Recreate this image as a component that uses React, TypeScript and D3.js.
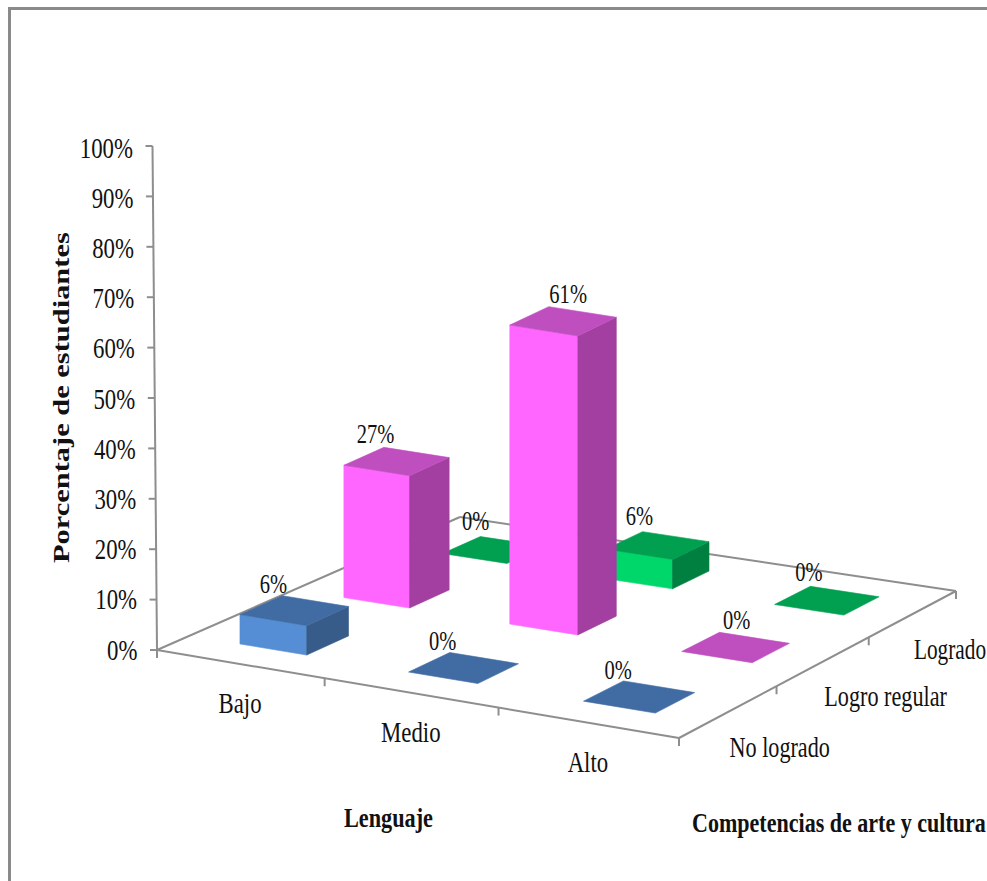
import * as d3 from "d3";
import React, { useEffect, useRef } from "react";

const lenguaje = ["Bajo", "Medio", "Alto"];
const competencias = ["No logrado", "Logro regular", "Logrado"];
const noLogrado = [6, 0, 0];
const logroRegular = [27, 61, 0];
const logrado = [0, 6, 0];
const seriesValues = [noLogrado, logroRegular, logrado];
const yTicks = [0, 10, 20, 30, 40, 50, 60, 70, 80, 90, 100];

const WIDTH = 987;
const HEIGHT = 881;
const SERIF = "'Liberation Serif', 'Times New Roman', serif";
const AXIS_COLOR = "#8e8e8e";

// front, top, side
const colors = [
  ["#558ed5", "#416ca3", "#375c8a"],
  ["#ff66ff", "#bf4fbf", "#a33fa0"],
  ["#00d76b", "#00a050", "#008040"],
];

// floor corners of the box, the picture is in perspective so map the unit square with a homography
const floorA: [number, number] = [157, 650];
const floorB: [number, number] = [679, 738];
const floorC: [number, number] = [956, 591];
const floorD: [number, number] = [460, 517];

const makeFloor = () => {
  const dx1 = floorB[0] - floorC[0];
  const dx2 = floorD[0] - floorC[0];
  const sx = floorA[0] - floorB[0] + floorC[0] - floorD[0];
  const dy1 = floorB[1] - floorC[1];
  const dy2 = floorD[1] - floorC[1];
  const sy = floorA[1] - floorB[1] + floorC[1] - floorD[1];
  const det = dx1 * dy2 - dx2 * dy1;
  const g = (sx * dy2 - dx2 * sy) / det;
  const h = (dx1 * sy - sx * dy1) / det;
  const a = floorB[0] - floorA[0] + g * floorB[0];
  const b = floorD[0] - floorA[0] + h * floorD[0];
  const d = floorB[1] - floorA[1] + g * floorB[1];
  const e = floorD[1] - floorA[1] + h * floorD[1];
  return (u: number, v: number): [number, number] => {
    const w = g * u + h * v + 1;
    return [(a * u + b * v + floorA[0]) / w, (d * u + e * v + floorA[1]) / w];
  };
};

const App: React.FC = () => {
  const svgRef = useRef<SVGSVGElement>(null);

  useEffect(() => {
    const svg = d3.select(svgRef.current);
    svg.selectAll("*").remove();

    const floor = makeFloor();
    const uScale = d3.scaleBand<string>().domain(lenguaje).range([0, 1]).paddingInner(0.6).paddingOuter(0.3);
    const vScale = d3.scaleBand<string>().domain(competencias).range([0, 1]).paddingInner(0.6).paddingOuter(0.3);
    const yScale = d3.scaleLinear().domain([0, 100]).range([650, 146]);
    const yAxisX = d3.scaleLinear().domain([0, 100]).range([157, 152.5]);
    const yLabelY = d3.scaleLinear().domain([0, 100]).range([659.5, 157.5]);
    const barHeight = d3.scaleLinear().domain([0, 100]).range([0, 490]);
    const poly = d3.line();

    const addText = (
      txt: string,
      x: number,
      y: number,
      size: number,
      anchor: string = "middle",
      sx: number = 0.76,
    ) => {
      const t = svg
        .append("text")
        .attr("transform", `translate(${x},${y}) scale(${sx},1)`)
        .attr("font-family", SERIF)
        .attr("font-size", size)
        .attr("fill", "#111")
        .attr("text-anchor", anchor)
        .text(txt);
      // keep the text inside the page on the right
      if (anchor === "start") {
        const natural = (t.node() as SVGTextElement).getComputedTextLength();
        const fit = Math.min(sx, (WIDTH - 1 - x) / natural);
        t.attr("transform", `translate(${x},${y}) scale(${fit},1)`);
      }
    };

    // frame
    svg
      .append("path")
      .attr("d", `M9.5,${HEIGHT} V8.5 H${WIDTH}`)
      .attr("fill", "none")
      .attr("stroke", "#8a8a8a")
      .attr("stroke-width", 3);

    // y axis
    svg
      .append("line")
      .attr("x1", yAxisX(0))
      .attr("y1", yScale(0))
      .attr("x2", yAxisX(100))
      .attr("y2", yScale(100))
      .attr("stroke", AXIS_COLOR)
      .attr("stroke-width", 2);
    yTicks.forEach((t) => {
      svg
        .append("line")
        .attr("x1", yAxisX(t) - 7)
        .attr("x2", yAxisX(t))
        .attr("y1", yScale(t))
        .attr("y2", yScale(t))
        .attr("stroke", AXIS_COLOR)
        .attr("stroke-width", 2);
      addText(`${t}%`, yAxisX(t) - 19.5, yLabelY(t), 30, "end");
    });

    // floor edges and ticks
    [
      [floorA, floorB],
      [floorB, floorC],
      [floorC, floorD],
      [floorD, floorA],
    ].forEach((edge) => {
      svg
        .append("path")
        .attr("d", poly(edge as [number, number][]))
        .attr("stroke", AXIS_COLOR)
        .attr("stroke-width", 2)
        .attr("fill", "none");
    });
    [0, 1, 2, 3].forEach((i) => {
      const p = floor(i / 3, 0);
      const q = floor(1, i / 3);
      [p, q].forEach((pt) => {
        svg
          .append("line")
          .attr("x1", pt[0])
          .attr("x2", pt[0])
          .attr("y1", pt[1])
          .attr("y2", pt[1] + 8)
          .attr("stroke", AXIS_COLOR)
          .attr("stroke-width", 2);
      });
    });

    // bars from back to front
    const labels: { txt: string; x: number; y: number }[] = [];
    d3.range(competencias.length - 1, -1, -1).forEach((row) => {
      lenguaje.forEach((cat, col) => {
        const value = seriesValues[row][col];
        const u0 = uScale(cat)!;
        const u1 = u0 + uScale.bandwidth();
        const v0 = vScale(competencias[row])!;
        const v1 = v0 + vScale.bandwidth();
        const h = barHeight(value);
        const up = (p: [number, number]): [number, number] => [p[0] + 1, p[1] - h];
        const base = (p: [number, number]): [number, number] => [p[0] + 1, p[1]];
        const fl = floor(u0, v0);
        const fr = floor(u1, v0);
        const br = floor(u1, v1);
        const bl = floor(u0, v1);
        const [front, top, side] = colors[row];

        const face = (pts: [number, number][], fill: string) => {
          svg
            .append("path")
            .attr("d", poly(pts) + "Z")
            .attr("fill", fill)
            .attr("stroke", fill)
            .attr("stroke-width", 0.6);
        };
        if (value > 0) {
          face([base(fl), base(fr), up(fr), up(fl)], front);
          face([base(fr), base(br), up(br), up(fr)], side);
        }
        face([up(fl), up(fr), up(br), up(bl)], top);

        const cx = d3.mean([fl, fr, br, bl], (p) => p[0])!;
        const cy = d3.mean([fl, fr, br, bl], (p) => p[1])! - h;
        // labels were moved around by hand in the original, back row sits a bit higher
        let dx = row === 2 ? -17 : -20;
        if (value === 61) dx = 6;
        if (row === 1 && col === 2) dx = 2;
        labels.push({ txt: `${value}%`, x: cx + dx, y: cy - (row === 2 ? 20 : 18) });
      });
    });
    labels.forEach((l) => addText(l.txt, l.x, l.y, 27));

    // category labels
    lenguaje.forEach((cat) => {
      const p = floor(uScale(cat)! + uScale.bandwidth() / 2, 0);
      addText(cat, p[0], p[1] + 49, 30);
    });
    competencias.forEach((c) => {
      const p = floor(1, vScale(c)! + vScale.bandwidth() / 2);
      addText(c, p[0] + 1, p[1] + 45, 30, "start", 0.74);
    });

    // titles, squeezed to the measured width instead of textLength
    const addTitle = (txt: string, x: number, y: number, len: number, size: number, rotate = 0) => {
      const t = svg
        .append("text")
        .attr("font-family", SERIF)
        .attr("font-size", size)
        .attr("font-weight", "bold")
        .attr("fill", "#111")
        .text(txt);
      const natural = (t.node() as SVGTextElement).getComputedTextLength();
      t.attr("transform", `translate(${x},${y}) rotate(${rotate}) scale(${len / natural},1)`);
    };
    addTitle("Porcentaje de estudiantes", 69, 563, 331, 23, -90);
    addTitle("Lenguaje", 344, 827, 89, 27);
    addTitle("Competencias de arte y cultura", 692, 832, 294, 27);
  }, []);

  return (
    <div style={{ position: "absolute", left: 0, top: 0 }}>
      <svg ref={svgRef} width={WIDTH} height={HEIGHT} style={{ display: "block", background: "#fff" }}></svg>
    </div>
  );
};

export default App;
